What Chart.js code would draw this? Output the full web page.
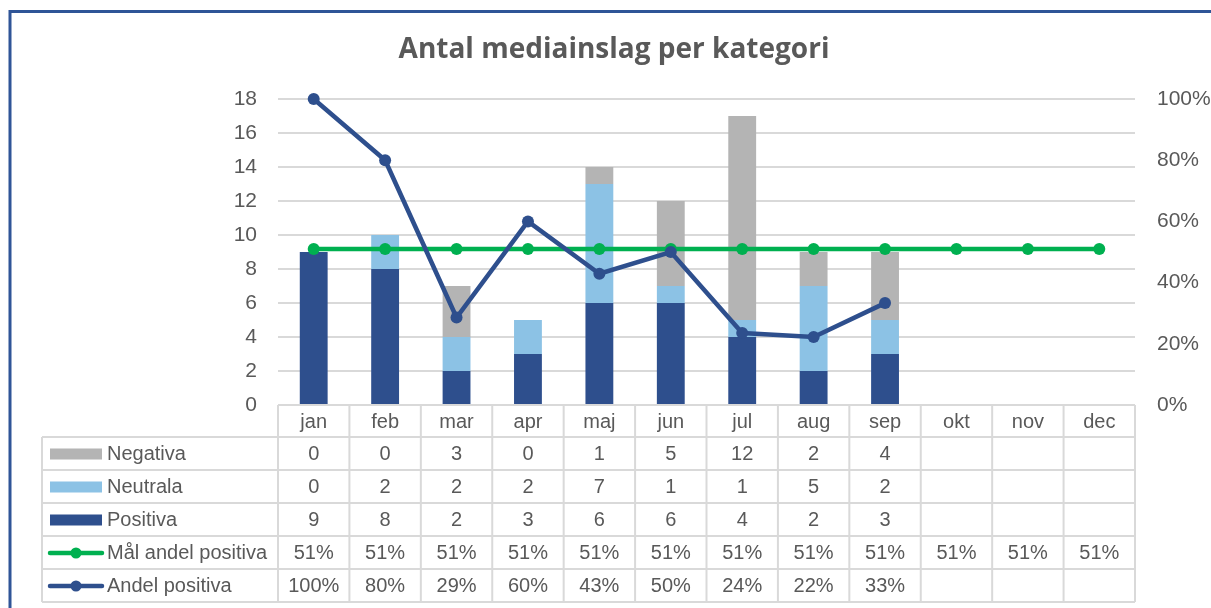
<!DOCTYPE html>
<html>
<head>
<meta charset="utf-8">
<script src="https://cdn.jsdelivr.net/npm/chart.js@4/dist/chart.umd.min.js"></script>
<style>
html,body{margin:0;padding:0;background:#fff;}
#wrap{width:1211px;height:608px;position:relative;}
</style>
</head>
<body>
<div id="wrap"><canvas id="c" width="1211" height="608"></canvas></div>
<script>
const months = ['jan','feb','mar','apr','maj','jun','jul','aug','sep','okt','nov','dec'];
const negativa = [0,0,3,0,1,5,12,2,4,null,null,null];
const neutrala = [0,2,2,2,7,1,1,5,2,null,null,null];
const positiva = [9,8,2,3,6,6,4,2,3,null,null,null];
const malAndelPositiva = [0.51,0.51,0.51,0.51,0.51,0.51,0.51,0.51,0.51,0.51,0.51,0.51];
const andelPositiva = [1,0.8,0.286,0.6,0.429,0.5,0.235,0.222,0.333,null,null,null];
const titleText = 'Antal mediainslag per kategori';

const TXT = '#595959';
const GRID = '#d9d9d9';
const C_NEG = '#b4b4b4';
const C_NEU = '#8cc2e5';
const C_POS = '#2e4f8d';
const C_MAL = '#00b050';
const C_AND = '#2e4f8d';
const FONT = "'Liberation Sans', Arial, sans-serif";
const TFONT = "'Open Sans', 'Liberation Sans', Arial, sans-serif";

const tableRows = [
  {label:'Negativa', data:negativa, kind:'bar', color:C_NEG, fmt:v=>String(v)},
  {label:'Neutrala', data:neutrala, kind:'bar', color:C_NEU, fmt:v=>String(v)},
  {label:'Positiva', data:positiva, kind:'bar', color:C_POS, fmt:v=>String(v)},
  {label:'Mål andel positiva', data:malAndelPositiva, kind:'line', color:C_MAL, fmt:v=>Math.round(v*100)+'%'},
  {label:'Andel positiva', data:andelPositiva, kind:'line', color:C_AND, fmt:v=>Math.round(v*100)+'%'}
];

const frame = {
  id:'frame',
  beforeDraw(chart){
    const ctx = chart.ctx;
    ctx.save();
    ctx.strokeStyle = '#2f5597';
    ctx.lineWidth = 3;
    ctx.beginPath();
    ctx.moveTo(10, 608);
    ctx.lineTo(10, 11.5);
    ctx.lineTo(1211, 11.5);
    ctx.stroke();
    ctx.restore();
  }
};

const dataTable = {
  id:'dataTable',
  afterDraw(chart){
    const ctx = chart.ctx;
    const x = chart.scales.x;
    const area = chart.chartArea;
    const n = months.length;
    const cw = (area.right - area.left) / n;
    const top = area.bottom;
    const headH = 32;
    const rowH = 33;
    const tableLeft = 42;
    const rowsTop = top + headH;
    const bottom = rowsTop + rowH * tableRows.length;
    ctx.save();
    ctx.strokeStyle = GRID;
    ctx.lineWidth = 2;
    ctx.beginPath();
    ctx.moveTo(area.left, top); ctx.lineTo(area.right, top);
    for (let r = 0; r <= tableRows.length; r++) {
      const y = rowsTop + r * rowH;
      ctx.moveTo(tableLeft, y); ctx.lineTo(area.right, y);
    }
    for (let k = 0; k <= n; k++) {
      const xx = area.left + k * cw;
      ctx.moveTo(xx, top); ctx.lineTo(xx, bottom);
    }
    ctx.moveTo(tableLeft, rowsTop); ctx.lineTo(tableLeft, bottom);
    ctx.stroke();

    ctx.fillStyle = TXT;
    ctx.font = '20px ' + FONT;
    ctx.textAlign = 'center';
    ctx.textBaseline = 'middle';
    months.forEach((m, i) => {
      ctx.fillText(m, x.getPixelForValue(i), top + headH / 2 + 1);
    });
    tableRows.forEach((row, r) => {
      const cy = rowsTop + r * rowH + rowH / 2 + 1;
      if (row.kind === 'bar') {
        ctx.fillStyle = row.color;
        ctx.fillRect(50, cy - 6, 52, 11);
      } else {
        ctx.strokeStyle = row.color;
        ctx.lineWidth = 4.5;
        ctx.lineCap = 'round';
        ctx.beginPath();
        ctx.moveTo(50, cy - 0.5); ctx.lineTo(102, cy - 0.5);
        ctx.stroke();
        ctx.fillStyle = row.color;
        ctx.beginPath();
        ctx.arc(76, cy - 0.5, 5.5, 0, Math.PI * 2);
        ctx.fill();
      }
      ctx.fillStyle = TXT;
      ctx.textAlign = 'left';
      ctx.fillText(row.label, 107, cy);
      ctx.textAlign = 'center';
      row.data.forEach((v, i) => {
        if (v === null || v === undefined) return;
        ctx.fillText(row.fmt(v), x.getPixelForValue(i), cy);
      });
    });
    ctx.restore();
  }
};

new Chart(document.getElementById('c'), {
  data: {
    labels: months,
    datasets: [
      {type:'line', label:'Andel positiva', data:andelPositiva, yAxisID:'y2', borderColor:C_AND, backgroundColor:C_AND,
       borderWidth:4.5, pointRadius:6, pointBackgroundColor:C_AND, pointBorderWidth:0, order:0, tension:0, clip:false},
      {type:'line', label:'Mål andel positiva', data:malAndelPositiva, yAxisID:'y2', borderColor:C_MAL, backgroundColor:C_MAL,
       borderWidth:4.5, pointRadius:6, pointBackgroundColor:C_MAL, pointBorderWidth:0, order:1, tension:0, clip:false},
      {type:'bar', label:'Positiva', data:positiva, backgroundColor:C_POS, stack:'s', yAxisID:'y', order:3,
       barPercentage:0.39, categoryPercentage:1},
      {type:'bar', label:'Neutrala', data:neutrala, backgroundColor:C_NEU, stack:'s', yAxisID:'y', order:3,
       barPercentage:0.39, categoryPercentage:1},
      {type:'bar', label:'Negativa', data:negativa, backgroundColor:C_NEG, stack:'s', yAxisID:'y', order:3,
       barPercentage:0.39, categoryPercentage:1}
    ]
  },
  options: {
    responsive:false,
    animation:false,
    layout:{padding:{top:0, bottom:203, left:17, right:0}},
    plugins:{
      legend:{display:false},
      tooltip:{enabled:false},
      title:{display:true, text:titleText, color:TXT, font:{family:TFONT, size:28, weight:'bold', lineHeight:1.2},
             padding:{top:33, bottom:32.4}}
    },
    scales:{
      x:{display:false, stacked:true, offset:true},
      y:{position:'left', stacked:true, min:0, max:18,
         ticks:{stepSize:2, color:TXT, font:{family:FONT, size:21}, padding:21},
         grid:{color:GRID, lineWidth:2, drawTicks:false},
         border:{display:false},
         afterFit(s){ s.width = 261; }},
      y2:{position:'right', min:0, max:1,
         ticks:{stepSize:0.2, color:TXT, font:{family:FONT, size:21}, padding:22, callback:v=>Math.round(v*100)+'%'},
         grid:{display:false, drawTicks:false},
         border:{display:false},
         afterFit(s){ s.width = 76; }}
    }
  },
  plugins:[frame, dataTable]
});
</script>
</body>
</html>
